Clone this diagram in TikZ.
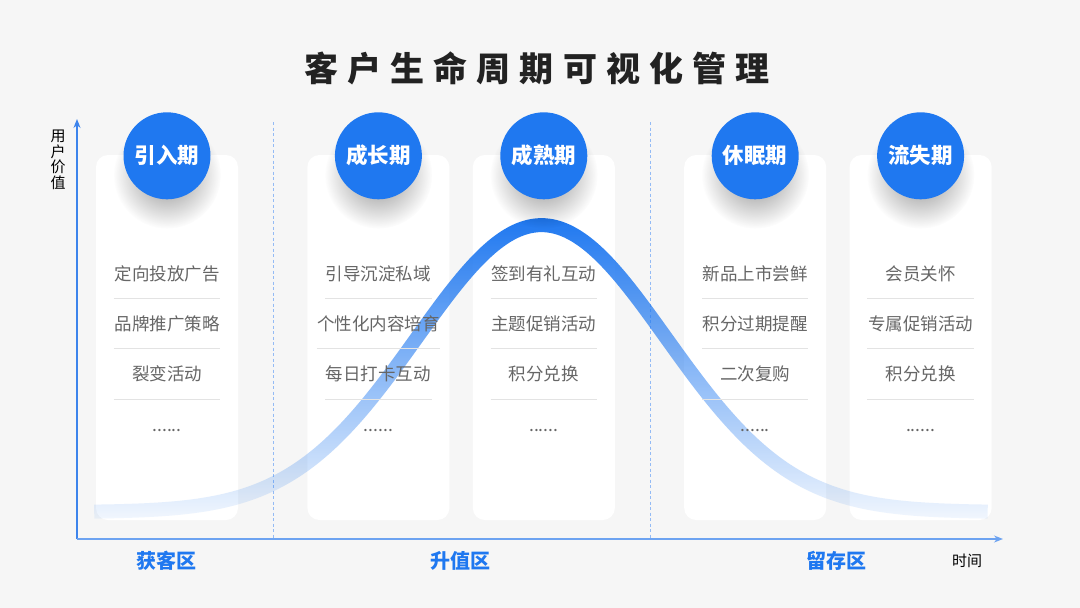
\documentclass[tikz,border=0pt]{standalone}
\usepackage{fontspec}
\setmainfont{Noto Sans CJK SC}
\newfontfamily\titlefont{Noto Sans CJK SC}[LetterSpace=27]
\usetikzlibrary{arrows.meta,positioning,fadings}
\definecolor{bggray}{HTML}{F6F6F6}
\definecolor{mainblue}{HTML}{1F78F0}
\definecolor{axisblue}{HTML}{3D84EC}
\definecolor{itemgray}{HTML}{666666}
\definecolor{sepgray}{HTML}{E3E3E3}
\definecolor{titleink}{HTML}{222222}
\tikzfading[name=curvefade, top color=transparent!0, middle color=transparent!62,
  bottom color=transparent!94]
\tikzfading[name=shadowfade, inner color=transparent!0, outer color=transparent!100]
\tikzset{
  stagecard/.style={fill=white, rounded corners=12pt, minimum width=142pt,
    minimum height=365pt, inner sep=0pt},
  stagedot/.style={circle, fill=mainblue, minimum size=87pt, inner sep=0pt,
    text=white, font=\fontsize{21.5}{21.5}\selectfont\bfseries},
  dotshadow/.style={fill=black, opacity=0.45, path fading=shadowfade},
  sepline/.style={draw=sepgray, line width=1pt},
  lastitem/.style={minimum width=106pt, minimum height=50pt, inner sep=0pt,
    text height=14pt, text depth=0pt, text=itemgray,
    font=\fontsize{17.5}{18}\selectfont},
  itembox/.style={lastitem, append after command={
    (\tikzlastnode.south west) edge[sepline] (\tikzlastnode.south east)}},
  zonelabel/.style={text=mainblue, font=\fontsize{20}{20}\selectfont\bfseries},
  axislabel/.style={text=black, align=center, font=\fontsize{15}{15.5}\selectfont},
  axisarr/.style={-{Stealth[length=9pt,width=7pt]}, draw=axisblue, line width=1.4pt},
  zoneline/.style={draw=axisblue!55, dash pattern=on 3pt off 2.5pt, line width=0.8pt},
  curveline/.style={draw=mainblue, line width=14pt, path fading=curvefade}
}
\begin{document}
\begin{tikzpicture}[x=1pt, y=-1pt]
    \fill[bggray] (0,0) rectangle (1080,608);
    \node[text=titleink, font=\fontsize{34}{40}\selectfont\titlefont\bfseries] (title) at (537,68) {客户生命周期可视化管理};
    % axes and zone borders
    \coordinate (origin) at (77,539);
    \coordinate (ytip) at (77,119);
    \coordinate (xtip) at (1003,539);
    \coordinate (zoneAtop) at (273,122);
    \coordinate (zoneAbot) at (273,539);
    \coordinate (zoneBtop) at (650,122);
    \coordinate (zoneBbot) at (650,539);
    \draw[zoneline] (zoneAtop) -- (zoneAbot);
    \draw[zoneline] (zoneBtop) -- (zoneBbot);
    \draw[axisarr] (origin) -- (ytip);
    \draw[axisarr, draw=axisblue!75] (origin) -- (xtip);
    \node[axislabel] (ylabel) at (58,160) {用\\户\\价\\值};
    \node[axislabel] (xlabel) at (967,561) {时间};
    \node[zonelabel] (zoneA) at (166,561) {获客区};
    \node[zonelabel] (zoneB) at (460,561) {升值区};
    \node[zonelabel] (zoneC) at (836,561) {留存区};
    % cards
    \node[stagecard] (card1) at (167,337.5) {};
    \node[stagecard, right=69pt of card1] (card2) {};
    \node[stagecard, right=23pt of card2] (card3) {};
    \node[stagecard, right=69pt of card3] (card4) {};
    \node[stagecard, right=23pt of card4] (card5) {};
    % value curve
    \draw[curveline] plot[smooth, domain=95:990, samples=120]
      (\x, {512-287*exp(-0.5*((\x-543)/125)^2)});
    % stage badges
    \fill[dotshadow] ([yshift=-20pt]card1.north) circle (54pt);
    \fill[dotshadow] ([yshift=-20pt]card2.north) circle (54pt);
    \fill[dotshadow] ([yshift=-20pt]card3.north) circle (54pt);
    \fill[dotshadow] ([yshift=-20pt]card4.north) circle (54pt);
    \fill[dotshadow] ([yshift=-20pt]card5.north) circle (54pt);
    \node[stagedot] (dot1) at ([yshift=-1pt]card1.north) {引入期};
    \node[stagedot] (dot2) at ([yshift=-1pt]card2.north) {成长期};
    \node[stagedot] (dot3) at ([yshift=-1pt]card3.north) {成熟期};
    \node[stagedot] (dot4) at ([yshift=-1pt]card4.north) {休眠期};
    \node[stagedot] (dot5) at ([yshift=-1pt]card5.north) {流失期};
    % items
    \node[itembox, below=93pt of card1.north] (item11) {定向投放广告};
    \node[itembox, below=0pt of item11] (item12) {品牌推广策略};
    \node[itembox, below=0pt of item12] (item13) {裂变活动};
    \node[lastitem, below=0pt of item13] (item14) {......};
    \node[itembox, below=93pt of card2.north] (item21) {引导沉淀私域};
    \node[itembox, below=0pt of item21] (item22) {个性化内容培育};
    \node[itembox, below=0pt of item22] (item23) {每日打卡互动};
    \node[lastitem, below=0pt of item23] (item24) {......};
    \node[itembox, below=93pt of card3.north] (item31) {签到有礼互动};
    \node[itembox, below=0pt of item31] (item32) {主题促销活动};
    \node[itembox, below=0pt of item32] (item33) {积分兑换};
    \node[lastitem, below=0pt of item33] (item34) {......};
    \node[itembox, below=93pt of card4.north] (item41) {新品上市尝鲜};
    \node[itembox, below=0pt of item41] (item42) {积分过期提醒};
    \node[itembox, below=0pt of item42] (item43) {二次复购};
    \node[lastitem, below=0pt of item43] (item44) {......};
    \node[itembox, below=93pt of card5.north] (item51) {会员关怀};
    \node[itembox, below=0pt of item51] (item52) {专属促销活动};
    \node[itembox, below=0pt of item52] (item53) {积分兑换};
    \node[lastitem, below=0pt of item53] (item54) {......};
\end{tikzpicture}
\end{document}
